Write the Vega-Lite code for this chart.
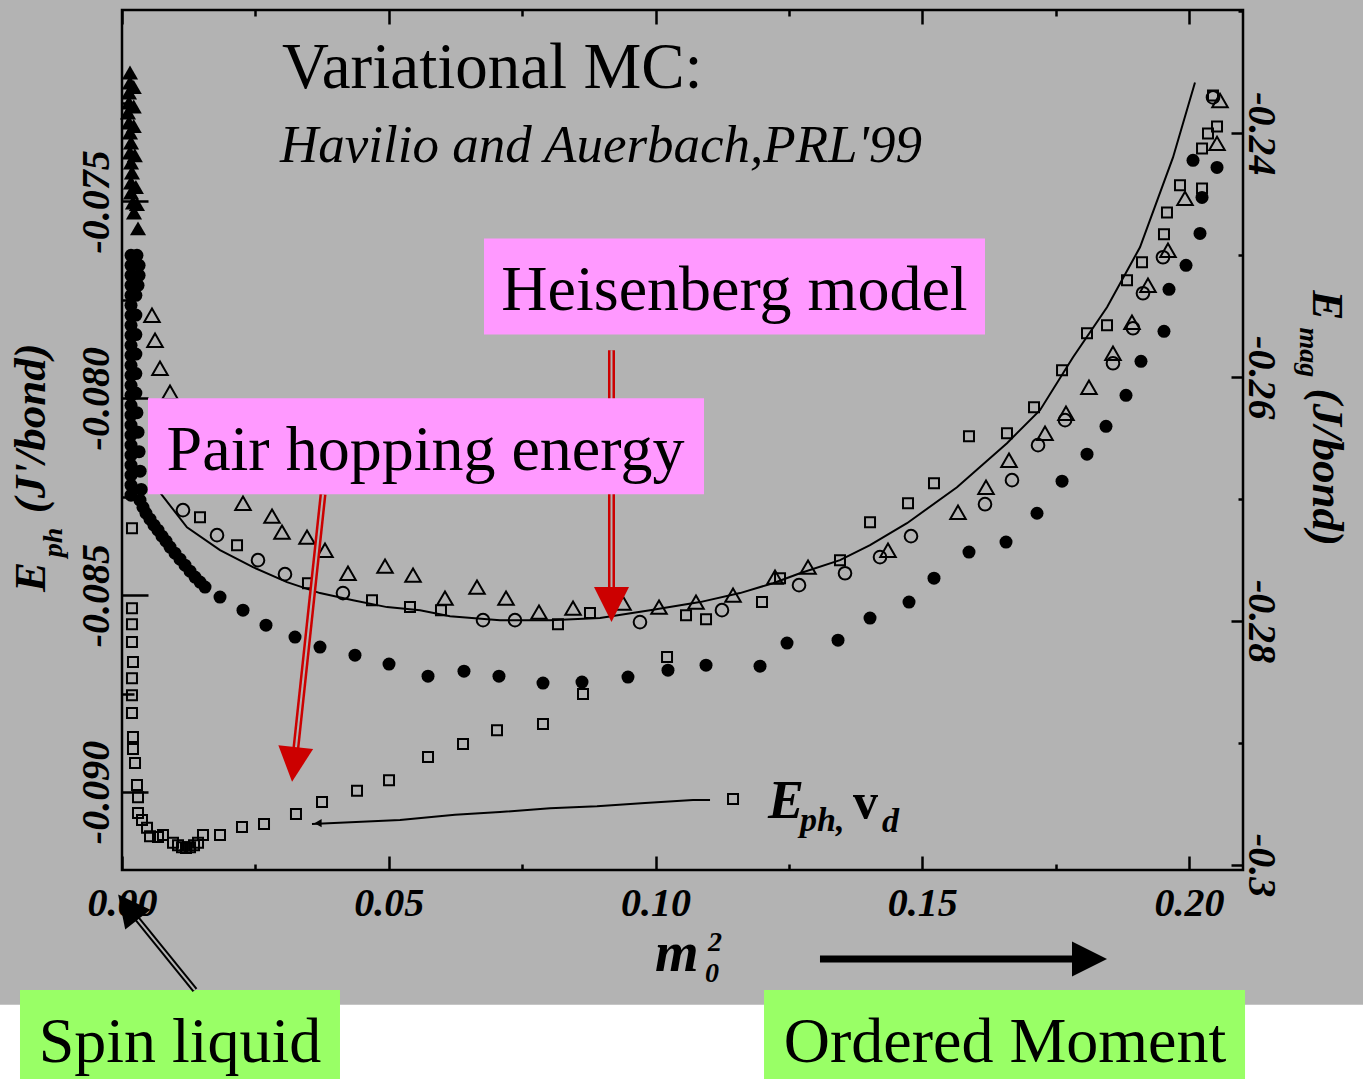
{
  "$schema": "https://vega.github.io/schema/vega-lite/v6.json",
  "width": 1121,
  "height": 860,
  "autosize": "none",
  "padding": {"left": 122, "top": 10, "right": 120, "bottom": 209},
  "background": "#b3b3b3",
  "config": {"view": {"stroke": "black", "strokeWidth": 2.5}, "font": "Liberation Serif"},
  "datasets": {
    "lowerSq": [
      {"x":0.00187,"y":-0.0833},{"x":0.00187,"y":-0.08533},{"x":0.00187,"y":-0.08574},{"x":0.00187,"y":-0.08619},{"x":0.00206,"y":-0.0867},{"x":0.00187,"y":-0.08711},{"x":0.00187,"y":-0.08754},{"x":0.00187,"y":-0.08799},{"x":0.00206,"y":-0.0886},{"x":0.00206,"y":-0.08891},{"x":0.00244,"y":-0.08926},{"x":0.00281,"y":-0.08982},{"x":0.003,"y":-0.09013},{"x":0.003,"y":-0.09053},{"x":0.00375,"y":-0.09071},{"x":0.00469,"y":-0.09091},{"x":0.00525,"y":-0.09112},{"x":0.00675,"y":-0.09114},{"x":0.00768,"y":-0.09109},{"x":0.00956,"y":-0.09129},{"x":0.0105,"y":-0.09135},{"x":0.01125,"y":-0.0914},{"x":0.012,"y":-0.09142},{"x":0.01275,"y":-0.0914},{"x":0.0135,"y":-0.09135},{"x":0.01425,"y":-0.09129},{"x":0.01518,"y":-0.09109},{"x":0.01837,"y":-0.09109},{"x":0.02249,"y":-0.09089},{"x":0.02662,"y":-0.09081},{"x":0.03261,"y":-0.09056},{"x":0.03749,"y":-0.09025},{"x":0.04405,"y":-0.08997},{"x":0.05005,"y":-0.0897},{"x":0.05736,"y":-0.08911},{"x":0.06392,"y":-0.08878},{"x":0.07029,"y":-0.08843},{"x":0.07891,"y":-0.08827},{"x":0.08641,"y":-0.08751},{"x":0.10216,"y":-0.08657},{"x":0.11453,"y":-0.09018}
    ],
    "ephLine": [
      {"x":0.03561,"y":-0.09081},{"x":0.05211,"y":-0.09071},{"x":0.06242,"y":-0.09058},{"x":0.07085,"y":-0.09051},{"x":0.08022,"y":-0.09041},{"x":0.08903,"y":-0.09036},{"x":0.09803,"y":-0.09028},{"x":0.10703,"y":-0.0902},{"x":0.11022,"y":-0.0902}
    ],
    "ephMark": [{"x":0.03674,"y":-0.09079}],
    "heisLine": [
      {"x":0.00525,"y":-0.26828},{"x":0.0075,"y":-0.26967},{"x":0.01218,"y":-0.2723},{"x":0.01837,"y":-0.27418},{"x":0.02455,"y":-0.27557},{"x":0.03093,"y":-0.2768},{"x":0.03711,"y":-0.2777},{"x":0.0433,"y":-0.27828},{"x":0.04967,"y":-0.27885},{"x":0.05586,"y":-0.2791},{"x":0.06148,"y":-0.27959},{"x":0.07085,"y":-0.27992},{"x":0.08022,"y":-0.27992},{"x":0.0896,"y":-0.27975},{"x":0.09897,"y":-0.2791},{"x":0.10834,"y":-0.27844},{"x":0.11584,"y":-0.2777},{"x":0.12202,"y":-0.27689},{"x":0.12708,"y":-0.27607},{"x":0.13458,"y":-0.275},{"x":0.14021,"y":-0.27377},{"x":0.14714,"y":-0.27197},{"x":0.15651,"y":-0.26902},{"x":0.16588,"y":-0.26541},{"x":0.17207,"y":-0.2627},{"x":0.17826,"y":-0.25836},{"x":0.18463,"y":-0.25426},{"x":0.19081,"y":-0.24934},{"x":0.197,"y":-0.24197},{"x":0.20112,"y":-0.23582}
    ],
    "sqUp": [
      {"x":0.01462,"y":-0.27148},{"x":0.02156,"y":-0.27377},{"x":0.03486,"y":-0.27689},{"x":0.04686,"y":-0.27828},{"x":0.05398,"y":-0.27885},{"x":0.05979,"y":-0.2791},{"x":0.08172,"y":-0.28025},{"x":0.08772,"y":-0.27934},{"x":0.10572,"y":-0.27951},{"x":0.10947,"y":-0.27984},{"x":0.11996,"y":-0.27844},{"x":0.12334,"y":-0.27648},{"x":0.13458,"y":-0.275},{"x":0.14021,"y":-0.27189},{"x":0.14733,"y":-0.27033},{"x":0.1522,"y":-0.26869},{"x":0.15876,"y":-0.26484},{"x":0.16588,"y":-0.26459},{"x":0.17095,"y":-0.26246},{"x":0.1762,"y":-0.25943},{"x":0.18088,"y":-0.25639},{"x":0.18463,"y":-0.25574},{"x":0.18838,"y":-0.25205},{"x":0.19119,"y":-0.25057},{"x":0.19531,"y":-0.24828},{"x":0.19587,"y":-0.24648},{"x":0.19831,"y":-0.24426},{"x":0.20244,"y":-0.24451},{"x":0.20244,"y":-0.24123},{"x":0.20356,"y":-0.24},{"x":0.20525,"y":-0.23943},{"x":0.2045,"y":-0.23689}
    ],
    "triOpen": [
      {"x":0.00562,"y":-0.25492},{"x":0.00619,"y":-0.25697},{"x":0.00712,"y":-0.25926},{"x":0.009,"y":-0.26123},{"x":0.02268,"y":-0.27033},{"x":0.02812,"y":-0.27139},{"x":0.02999,"y":-0.2727},{"x":0.03468,"y":-0.27311},{"x":0.03805,"y":-0.27418},{"x":0.04236,"y":-0.27607},{"x":0.0493,"y":-0.27549},{"x":0.05455,"y":-0.27623},{"x":0.06054,"y":-0.27811},{"x":0.06654,"y":-0.27721},{"x":0.07198,"y":-0.27811},{"x":0.07816,"y":-0.27926},{"x":0.08454,"y":-0.27893},{"x":0.09391,"y":-0.27852},{"x":0.10066,"y":-0.27885},{"x":0.10759,"y":-0.27844},{"x":0.11453,"y":-0.27787},{"x":0.1224,"y":-0.27639},{"x":0.12859,"y":-0.27557},{"x":0.14358,"y":-0.27418},{"x":0.1567,"y":-0.27107},{"x":0.16195,"y":-0.26902},{"x":0.16626,"y":-0.2668},{"x":0.17301,"y":-0.26459},{"x":0.17694,"y":-0.26295},{"x":0.18125,"y":-0.26082},{"x":0.18575,"y":-0.25803},{"x":0.18931,"y":-0.25549},{"x":0.19231,"y":-0.25246},{"x":0.19606,"y":-0.24959},{"x":0.19925,"y":-0.24533},{"x":0.20525,"y":-0.24082},{"x":0.20581,"y":-0.2373}
    ],
    "circOpen": [
      {"x":0.01143,"y":-0.2709},{"x":0.01781,"y":-0.27295},{"x":0.02549,"y":-0.275},{"x":0.03055,"y":-0.27615},{"x":0.04142,"y":-0.2777},{"x":0.06767,"y":-0.27992},{"x":0.07366,"y":-0.27992},{"x":0.09709,"y":-0.28008},{"x":0.11246,"y":-0.2791},{"x":0.1269,"y":-0.27705},{"x":0.13552,"y":-0.27607},{"x":0.14208,"y":-0.27475},{"x":0.14789,"y":-0.27303},{"x":0.16176,"y":-0.27041},{"x":0.16682,"y":-0.26844},{"x":0.1717,"y":-0.26557},{"x":0.17676,"y":-0.26352},{"x":0.18575,"y":-0.25885},{"x":0.1895,"y":-0.25598},{"x":0.19137,"y":-0.25311},{"x":0.19512,"y":-0.25016},{"x":0.2045,"y":-0.23705}
    ],
    "filledCirc": [
      {"x":0.00169,"y":-0.25},{"x":0.00169,"y":-0.25082},{"x":0.00169,"y":-0.25164},{"x":0.00169,"y":-0.25246},{"x":0.00169,"y":-0.25328},{"x":0.00169,"y":-0.2541},{"x":0.00169,"y":-0.25492},{"x":0.00169,"y":-0.25574},{"x":0.00169,"y":-0.25656},{"x":0.00169,"y":-0.25738},{"x":0.00169,"y":-0.2582},{"x":0.00169,"y":-0.25902},{"x":0.00169,"y":-0.25984},{"x":0.00169,"y":-0.26066},{"x":0.00169,"y":-0.26148},{"x":0.00169,"y":-0.2623},{"x":0.00169,"y":-0.26311},{"x":0.00169,"y":-0.26393},{"x":0.00169,"y":-0.26475},{"x":0.00169,"y":-0.26557},{"x":0.00169,"y":-0.26639},{"x":0.00169,"y":-0.26721},{"x":0.00169,"y":-0.26803},{"x":0.00169,"y":-0.26885},{"x":0.00169,"y":-0.26967},
      {"x":0.0028,"y":-0.25},{"x":0.0032,"y":-0.25082},{"x":0.0032,"y":-0.25164},{"x":0.003,"y":-0.25246},{"x":0.0026,"y":-0.25328},{"x":0.0026,"y":-0.2549},{"x":0.0026,"y":-0.2565},{"x":0.0026,"y":-0.2581},{"x":0.0026,"y":-0.2597},{"x":0.0026,"y":-0.2613},{"x":0.0028,"y":-0.2629},{"x":0.003,"y":-0.2645},{"x":0.0032,"y":-0.2661},{"x":0.0034,"y":-0.2677},{"x":0.0036,"y":-0.2692},
      {"x":0.00337,"y":-0.27008},{"x":0.00394,"y":-0.27066},{"x":0.0045,"y":-0.27115},{"x":0.00525,"y":-0.27164},{"x":0.006,"y":-0.27213},{"x":0.00675,"y":-0.27254},{"x":0.0075,"y":-0.27303},{"x":0.00825,"y":-0.27344},{"x":0.009,"y":-0.27393},{"x":0.00993,"y":-0.27443},{"x":0.01087,"y":-0.27492},{"x":0.01181,"y":-0.27541},{"x":0.01275,"y":-0.2759},{"x":0.01368,"y":-0.27639},{"x":0.01462,"y":-0.2768},{"x":0.01556,"y":-0.27721},
      {"x":0.01837,"y":-0.27803},{"x":0.02268,"y":-0.2791},{"x":0.02699,"y":-0.28033},{"x":0.03243,"y":-0.28131},{"x":0.03711,"y":-0.28213},{"x":0.04367,"y":-0.28279},{"x":0.05005,"y":-0.28352},{"x":0.05736,"y":-0.28451},{"x":0.0641,"y":-0.2841},{"x":0.07066,"y":-0.28451},{"x":0.07891,"y":-0.28508},{"x":0.08622,"y":-0.285},{"x":0.09484,"y":-0.28459},{"x":0.10234,"y":-0.28402},{"x":0.10947,"y":-0.28361},{"x":0.11959,"y":-0.28369},{"x":0.12465,"y":-0.2818},{"x":0.13421,"y":-0.28156},{"x":0.14021,"y":-0.27975},{"x":0.14752,"y":-0.27844},{"x":0.1522,"y":-0.27648},{"x":0.15876,"y":-0.27434},{"x":0.1657,"y":-0.27352},{"x":0.17151,"y":-0.27115},{"x":0.1762,"y":-0.26852},{"x":0.18088,"y":-0.26631},{"x":0.18444,"y":-0.26402},{"x":0.18819,"y":-0.26148},{"x":0.191,"y":-0.25869},{"x":0.19531,"y":-0.25623},{"x":0.19625,"y":-0.25279},{"x":0.19944,"y":-0.25082},{"x":0.20206,"y":-0.2482},{"x":0.20244,"y":-0.24525},{"x":0.20075,"y":-0.24221},{"x":0.20525,"y":-0.24279}
    ],
    "triFilled": [
      {"x":0.0015,"y":-0.235},{"x":0.0015,"y":-0.23582},{"x":0.00131,"y":-0.23664},{"x":0.00131,"y":-0.23746},{"x":0.00112,"y":-0.23828},{"x":0.00131,"y":-0.2391},{"x":0.0015,"y":-0.23992},{"x":0.00169,"y":-0.24074},{"x":0.0015,"y":-0.24156},{"x":0.00169,"y":-0.24238},{"x":0.00187,"y":-0.2432},{"x":0.00169,"y":-0.24402},{"x":0.00169,"y":-0.24484},{"x":0.00206,"y":-0.24566},{"x":0.00225,"y":-0.24648},{"x":0.003,"y":-0.24779},
      {"x":0.0022,"y":-0.2362},{"x":0.0022,"y":-0.2378},{"x":0.0022,"y":-0.2394},{"x":0.0024,"y":-0.2418},{"x":0.0026,"y":-0.2444},{"x":0.0028,"y":-0.2458}
    ],
    "whiteBand": [{"x":-0.03,"x2":0.24,"y":-0.0954,"y2":-0.0985}],
    "pinkBoxes": [{"x":0.06785,"x2":0.16176,"y":-0.07594,"y2":-0.07838},{"x":0.00487,"x2":0.10909,"y":-0.08,"y2":-0.08244}],
    "greenBoxes": [{"x":-0.01912,"x2":0.04086,"y":-0.09503,"y2":-0.0975},{"x":0.12034,"x2":0.2105,"y":-0.09503,"y2":-0.0975}],
    "bigLabels": [{"t":"Heisenberg model","x":0.1148,"y":-0.07777},{"t":"Pair hopping energy","x":0.05689,"y":-0.08183},{"t":"Spin liquid","x":0.01087,"y":-0.09685},{"t":"Ordered Moment","x":0.16551,"y":-0.09685}],
    "title1": [{"t":"Variational MC:","x":0.02999,"y":-0.07213}],
    "title2": [{"t":"Havilio and Auerbach,PRL'99","x":0.02962,"y":-0.07401}],
    "leftTitleBig": [{"t":"E","x":-0.01443,"y":-0.08492},{"t":"(J'/bond)","x":-0.01443,"y":-0.08292}],
    "leftTitleSmall": [{"t":"ph","x":-0.01125,"y":-0.08404}],
    "rightTitleBig": [{"t":"E","x":0.22324,"y":-0.07726},{"t":"(J/bond)","x":0.22324,"y":-0.07975}],
    "rightTitleSmall": [{"t":"mag","x":0.2208,"y":-0.0782}],
    "xTitleBig": [{"t":"m","x":0.09991,"y":-0.09454}],
    "xTitleSmall": [{"t":"2","x":0.10984,"y":-0.09404},{"t":"0","x":0.10928,"y":-0.09482}],
    "ephBig": [{"t":"E","x":0.12109,"y":-0.09066}],
    "ephSmall": [{"t":"ph,","x":0.12708,"y":-0.09099},{"t":"d","x":0.14245,"y":-0.09101}],
    "ephV": [{"t":"v","x":0.13702,"y":-0.09066}],
    "arrows": [
      {"id":"r1","x":0.09175,"y":-0.07878,"x2":0.09175,"y2":-0.08492},
      {"id":"r2","x":0.03768,"y":-0.08244,"x2":0.03252,"y2":-0.08898},
      {"id":"b1","x":0.01368,"y":-0.09503,"x2":0.00244,"y2":-0.09315},
      {"id":"b2","x":0.13083,"y":-0.09424,"x2":0.17919,"y2":-0.09424}
    ],
    "heads": [
      {"id":"r1","x":0.09175,"y":-0.08524},
      {"id":"r2","x":0.03222,"y":-0.0893},
      {"id":"b1","x":0.00112,"y":-0.09292},
      {"id":"b2","x":0.18135,"y":-0.09424}
    ]
  },
  "layer": [
    {
      "encoding": {
        "x": {"field": "x", "type": "quantitative", "scale": {"domain": [0, 0.21012], "nice": false, "zero": false},
          "axis": {"orient": "bottom", "title": null, "domain": false, "grid": false,
            "values": [0, 0.025, 0.05, 0.075, 0.1, 0.125, 0.15, 0.175, 0.2],
            "labelExpr": "round(datum.value*1000) % 50 != 0 ? '' : format(datum.value, '.2f')",
            "ticks": true, "tickSize": -14, "tickColor": "black", "tickWidth": 2.5,
            "tickDash": {"condition": {"test": "round(datum.value*1000) % 50 != 0", "value": [6, 100]}, "value": [100, 0]},
            "labelFont": "Liberation Serif", "labelFontSize": 40, "labelFontStyle": "italic", "labelFontWeight": "bold", "labelColor": "black",
            "labelAngle": 0, "labelAlign": "center", "labelBaseline": "alphabetic", "labelPadding": 59, "labelFlush": false, "labelOverlap": false, "labelBound": false}},
        "y": {"field": "y", "type": "quantitative", "scale": {"domain": [-0.09198, -0.07014], "nice": false, "zero": false},
          "axis": {"orient": "left", "title": null, "domain": false, "grid": false,
            "values": [-0.09, -0.0875, -0.085, -0.0825, -0.08, -0.0775, -0.075, -0.0725],
            "labelExpr": "round(datum.value*10000) % 50 != 0 ? '' : '-' + format(-datum.value, '.3f')",
            "ticks": true, "tickSize": -26, "tickColor": "black", "tickWidth": 2.5,
            "tickDash": {"condition": {"test": "round(datum.value*10000) % 50 != 0", "value": [12, 100]}, "value": [100, 0]},
            "labelFont": "Liberation Serif", "labelFontSize": 40, "labelFontStyle": "italic", "labelFontWeight": "bold", "labelColor": "black",
            "labelAngle": 270, "labelAlign": "center", "labelBaseline": "alphabetic", "labelPadding": 40, "labelFlush": false, "labelOverlap": false, "labelBound": false}}
      },
      "layer": [
        {"data": {"name": "ephLine"}, "mark": {"type": "line", "color": "black", "strokeWidth": 2}},
        {"data": {"name": "ephMark"}, "mark": {"type": "point", "shape": "triangle-left", "filled": true, "color": "black", "size": 70, "opacity": 1}},
        {"data": {"name": "lowerSq"}, "mark": {"type": "point", "shape": "square", "filled": false, "color": "black", "strokeWidth": 2, "size": 100, "opacity": 1}}
      ]
    },
    {
      "encoding": {
        "x": {"field": "x", "type": "quantitative", "scale": {"domain": [0, 0.21012], "nice": false, "zero": false},
          "axis": {"orient": "top", "title": null, "domain": false, "grid": false, "labels": false,
            "values": [0, 0.025, 0.05, 0.075, 0.1, 0.125, 0.15, 0.175, 0.2],
            "ticks": true, "tickSize": -14, "tickColor": "black", "tickWidth": 2.5,
            "tickDash": {"condition": {"test": "round(datum.value*1000) % 50 != 0", "value": [6, 100]}, "value": [100, 0]}}},
        "y": {"field": "y", "type": "quantitative", "scale": {"domain": [-0.30041, -0.22988], "nice": false, "zero": false},
          "axis": {"orient": "right", "title": null, "domain": false, "grid": false,
            "values": [-0.3, -0.29, -0.28, -0.27, -0.26, -0.25, -0.24, -0.23],
            "labelExpr": "round(datum.value*1000) % 20 != 0 ? '' : (round(datum.value*100) == -30 ? '-0.3' : '-' + format(-datum.value, '.2f'))",
            "ticks": true, "tickSize": -12, "tickColor": "black", "tickWidth": 2.5,
            "tickDash": {"condition": {"test": "round(datum.value*1000) % 20 != 0", "value": [5, 100]}, "value": [100, 0]},
            "labelFont": "Liberation Serif", "labelFontSize": 40, "labelFontStyle": "italic", "labelFontWeight": "bold", "labelColor": "black",
            "labelAngle": 90, "labelAlign": "center", "labelBaseline": "alphabetic", "labelPadding": 17, "labelFlush": false, "labelOverlap": false, "labelBound": false}}
      },
      "layer": [
        {"data": {"name": "heisLine"}, "mark": {"type": "line", "color": "black", "strokeWidth": 2}},
        {"data": {"name": "sqUp"}, "mark": {"type": "point", "shape": "square", "filled": false, "color": "black", "strokeWidth": 2, "size": 100, "opacity": 1}},
        {"data": {"name": "triOpen"}, "mark": {"type": "point", "shape": "triangle-up", "filled": false, "color": "black", "strokeWidth": 2, "size": 240, "opacity": 1}},
        {"data": {"name": "circOpen"}, "mark": {"type": "point", "shape": "circle", "filled": false, "color": "black", "strokeWidth": 2, "size": 160, "opacity": 1}},
        {"data": {"name": "filledCirc"}, "mark": {"type": "point", "shape": "circle", "filled": true, "color": "black", "size": 169, "opacity": 1}},
        {"data": {"name": "triFilled"}, "mark": {"type": "point", "shape": "triangle-up", "filled": true, "color": "black", "size": 260, "opacity": 1}}
      ]
    },
    {
      "encoding": {
        "x": {"field": "x", "type": "quantitative", "scale": {"domain": [0, 0.21012], "nice": false, "zero": false}, "axis": null},
        "y": {"field": "y", "type": "quantitative", "scale": {"domain": [-0.09198, -0.07014], "nice": false, "zero": false}, "axis": null}
      },
      "layer": [
        {"data": {"name": "whiteBand"}, "mark": {"type": "rect", "color": "white"}, "encoding": {"x2": {"field": "x2"}, "y2": {"field": "y2"}}},
        {"data": {"name": "greenBoxes"}, "mark": {"type": "rect", "color": "#99ff66"}, "encoding": {"x2": {"field": "x2"}, "y2": {"field": "y2"}}},
        {"data": {"name": "arrows"}, "transform": [{"filter": "datum.id == 'r1' || datum.id == 'r2'"}], "mark": {"type": "rule", "color": "#cc0000", "strokeWidth": 7}, "encoding": {"x2": {"field": "x2"}, "y2": {"field": "y2"}}},
        {"data": {"name": "arrows"}, "transform": [{"filter": "datum.id == 'r1' || datum.id == 'r2'"}], "mark": {"type": "rule", "color": "#b3b3b3", "strokeWidth": 2}, "encoding": {"x2": {"field": "x2"}, "y2": {"field": "y2"}}},
        {"data": {"name": "arrows"}, "transform": [{"filter": "datum.id == 'b1'"}], "mark": {"type": "rule", "color": "black", "strokeWidth": 6}, "encoding": {"x2": {"field": "x2"}, "y2": {"field": "y2"}}},
        {"data": {"name": "arrows"}, "transform": [{"filter": "datum.id == 'b1'"}], "mark": {"type": "rule", "color": "#b3b3b3", "strokeWidth": 2}, "encoding": {"x2": {"field": "x2"}, "y2": {"field": "y2"}}},
        {"data": {"name": "arrows"}, "transform": [{"filter": "datum.id == 'b2'"}], "mark": {"type": "rule", "color": "black", "strokeWidth": 7}, "encoding": {"x2": {"field": "x2"}, "y2": {"field": "y2"}}},
        {"data": {"name": "heads"}, "transform": [{"filter": "datum.id == 'r1'"}], "mark": {"type": "point", "shape": "M-1,-1L1,-1L0,1Z", "filled": true, "color": "#cc0000", "size": 1225, "angle": 0, "opacity": 1}},
        {"data": {"name": "heads"}, "transform": [{"filter": "datum.id == 'r2'"}], "mark": {"type": "point", "shape": "M-1,-1L1,-1L0,1Z", "filled": true, "color": "#cc0000", "size": 1225, "angle": 6, "opacity": 1}},
        {"data": {"name": "heads"}, "transform": [{"filter": "datum.id == 'b1'"}], "mark": {"type": "point", "shape": "M-1,-1L1,-1L0,1Z", "filled": true, "color": "black", "size": 1024, "angle": 142, "opacity": 1}},
        {"data": {"name": "heads"}, "transform": [{"filter": "datum.id == 'b2'"}], "mark": {"type": "point", "shape": "M-1,-1L1,-1L0,1Z", "filled": true, "color": "black", "size": 1225, "angle": -90, "opacity": 1}},
        {"data": {"name": "pinkBoxes"}, "mark": {"type": "rect", "color": "#ff99ff"}, "encoding": {"x2": {"field": "x2"}, "y2": {"field": "y2"}}},
        {"data": {"name": "bigLabels"}, "mark": {"type": "text", "font": "Liberation Serif", "fontSize": 64, "align": "center", "baseline": "alphabetic", "color": "black"}, "encoding": {"text": {"field": "t"}}},
        {"data": {"name": "title1"}, "mark": {"type": "text", "font": "Liberation Serif", "fontSize": 65, "align": "left", "baseline": "alphabetic", "color": "black"}, "encoding": {"text": {"field": "t"}}},
        {"data": {"name": "title2"}, "mark": {"type": "text", "font": "Liberation Serif", "fontSize": 53, "fontStyle": "italic", "align": "left", "baseline": "alphabetic", "color": "black"}, "encoding": {"text": {"field": "t"}}},
        {"data": {"name": "leftTitleBig"}, "mark": {"type": "text", "font": "Liberation Serif", "fontSize": 45, "fontStyle": "italic", "fontWeight": "bold", "angle": 270, "align": "left", "baseline": "alphabetic", "color": "black"}, "encoding": {"text": {"field": "t"}}},
        {"data": {"name": "leftTitleSmall"}, "mark": {"type": "text", "font": "Liberation Serif", "fontSize": 28, "fontStyle": "italic", "fontWeight": "bold", "angle": 270, "align": "left", "baseline": "alphabetic", "color": "black"}, "encoding": {"text": {"field": "t"}}},
        {"data": {"name": "rightTitleBig"}, "mark": {"type": "text", "font": "Liberation Serif", "fontSize": 45, "fontStyle": "italic", "fontWeight": "bold", "angle": 90, "align": "left", "baseline": "alphabetic", "color": "black"}, "encoding": {"text": {"field": "t"}}},
        {"data": {"name": "rightTitleSmall"}, "mark": {"type": "text", "font": "Liberation Serif", "fontSize": 28, "fontStyle": "italic", "fontWeight": "bold", "angle": 90, "align": "left", "baseline": "alphabetic", "color": "black"}, "encoding": {"text": {"field": "t"}}},
        {"data": {"name": "xTitleBig"}, "mark": {"type": "text", "font": "Liberation Serif", "fontSize": 56, "fontStyle": "italic", "fontWeight": "bold", "align": "left", "baseline": "alphabetic", "color": "black"}, "encoding": {"text": {"field": "t"}}},
        {"data": {"name": "xTitleSmall"}, "mark": {"type": "text", "font": "Liberation Serif", "fontSize": 28, "fontStyle": "italic", "fontWeight": "bold", "align": "left", "baseline": "alphabetic", "color": "black"}, "encoding": {"text": {"field": "t"}}},
        {"data": {"name": "ephBig"}, "mark": {"type": "text", "font": "Liberation Serif", "fontSize": 54, "fontStyle": "italic", "fontWeight": "bold", "align": "left", "baseline": "alphabetic", "color": "black"}, "encoding": {"text": {"field": "t"}}},
        {"data": {"name": "ephSmall"}, "mark": {"type": "text", "font": "Liberation Serif", "fontSize": 34, "fontStyle": "italic", "fontWeight": "bold", "align": "left", "baseline": "alphabetic", "color": "black"}, "encoding": {"text": {"field": "t"}}},
        {"data": {"name": "ephV"}, "mark": {"type": "text", "font": "Liberation Serif", "fontSize": 50, "fontWeight": "bold", "align": "left", "baseline": "alphabetic", "color": "black"}, "encoding": {"text": {"field": "t"}}}
      ]
    }
  ],
  "resolve": {"scale": {"x": "independent", "y": "independent"}, "axis": {"x": "independent", "y": "independent"}}
}
